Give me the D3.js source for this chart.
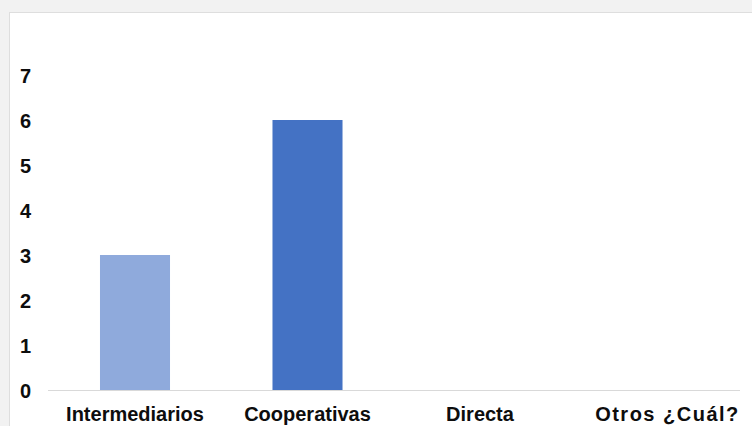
<!DOCTYPE html>
<html>
<head>
<meta charset="utf-8">
<script src="https://cdn.jsdelivr.net/npm/d3@7"></script>
<style>
  html, body { margin: 0; padding: 0; background: #f2f2f2; }
  svg { display: block; }
</style>
</head>
<body>
<svg id="chart" width="752" height="426"></svg>
<script>
const categories = ["Intermediarios", "Cooperativas", "Directa", "Otros ¿Cuál?"];
const values = [3, 6, 0, 0];
const barColors = ["#8faadc", "#4472c4", "#4472c4", "#4472c4"];
const yTicks = [0, 1, 2, 3, 4, 5, 6, 7];

const svg = d3.select("#chart");
const W = 752, H = 426;

// outer background
svg.append("rect").attr("x", 0).attr("y", 0).attr("width", W).attr("height", H).attr("fill", "#f2f2f2");
// white panel
svg.append("rect").attr("x", 9.5).attr("y", 12.5).attr("width", W + 10).attr("height", H + 10)
  .attr("fill", "#ffffff").attr("stroke", "#dedede").attr("stroke-width", 1);

const x = d3.scaleBand()
  .domain(categories)
  .range([48.75, 738.75])
  .paddingInner(0.594)
  .paddingOuter(0.297);

const y = d3.scaleLinear().domain([0, 7]).range([390, 75]);

// bars
svg.append("g").selectAll("rect")
  .data(categories)
  .join("rect")
  .attr("x", d => x(d))
  .attr("width", x.bandwidth())
  .attr("y", (d, i) => y(values[i]))
  .attr("height", (d, i) => y(0) - y(values[i]))
  .attr("fill", (d, i) => barColors[i]);

// baseline
svg.append("line")
  .attr("x1", 48).attr("x2", 740)
  .attr("y1", y(0) + 0.5).attr("y2", y(0) + 0.5)
  .attr("stroke", "#d9d9d9").attr("stroke-width", 1);

// y tick labels
svg.append("g").selectAll("text")
  .data(yTicks)
  .join("text")
  .attr("x", 25.5)
  .attr("y", d => y(d) + 7.5)
  .attr("text-anchor", "middle")
  .attr("font-family", "'Liberation Sans', Arial, sans-serif")
  .attr("font-weight", "bold")
  .attr("font-size", 20)
  .attr("fill", "#0d0d0d")
  .text(d => d);

// category labels
svg.append("g").selectAll("text")
  .data(categories)
  .join("text")
  .attr("x", d => x(d) + x.bandwidth() / 2)
  .attr("dx", (d, i) => i === categories.length - 1 ? 15 : 0)
  .attr("y", 421)
  .attr("text-anchor", "middle")
  .attr("letter-spacing", (d, i) => i === categories.length - 1 ? 1.5 : 0)
  .attr("font-family", "'Liberation Sans', Arial, sans-serif")
  .attr("font-weight", "bold")
  .attr("font-size", 20)
  .attr("fill", "#0d0d0d")
  .text(d => d);
</script>
</body>
</html>
